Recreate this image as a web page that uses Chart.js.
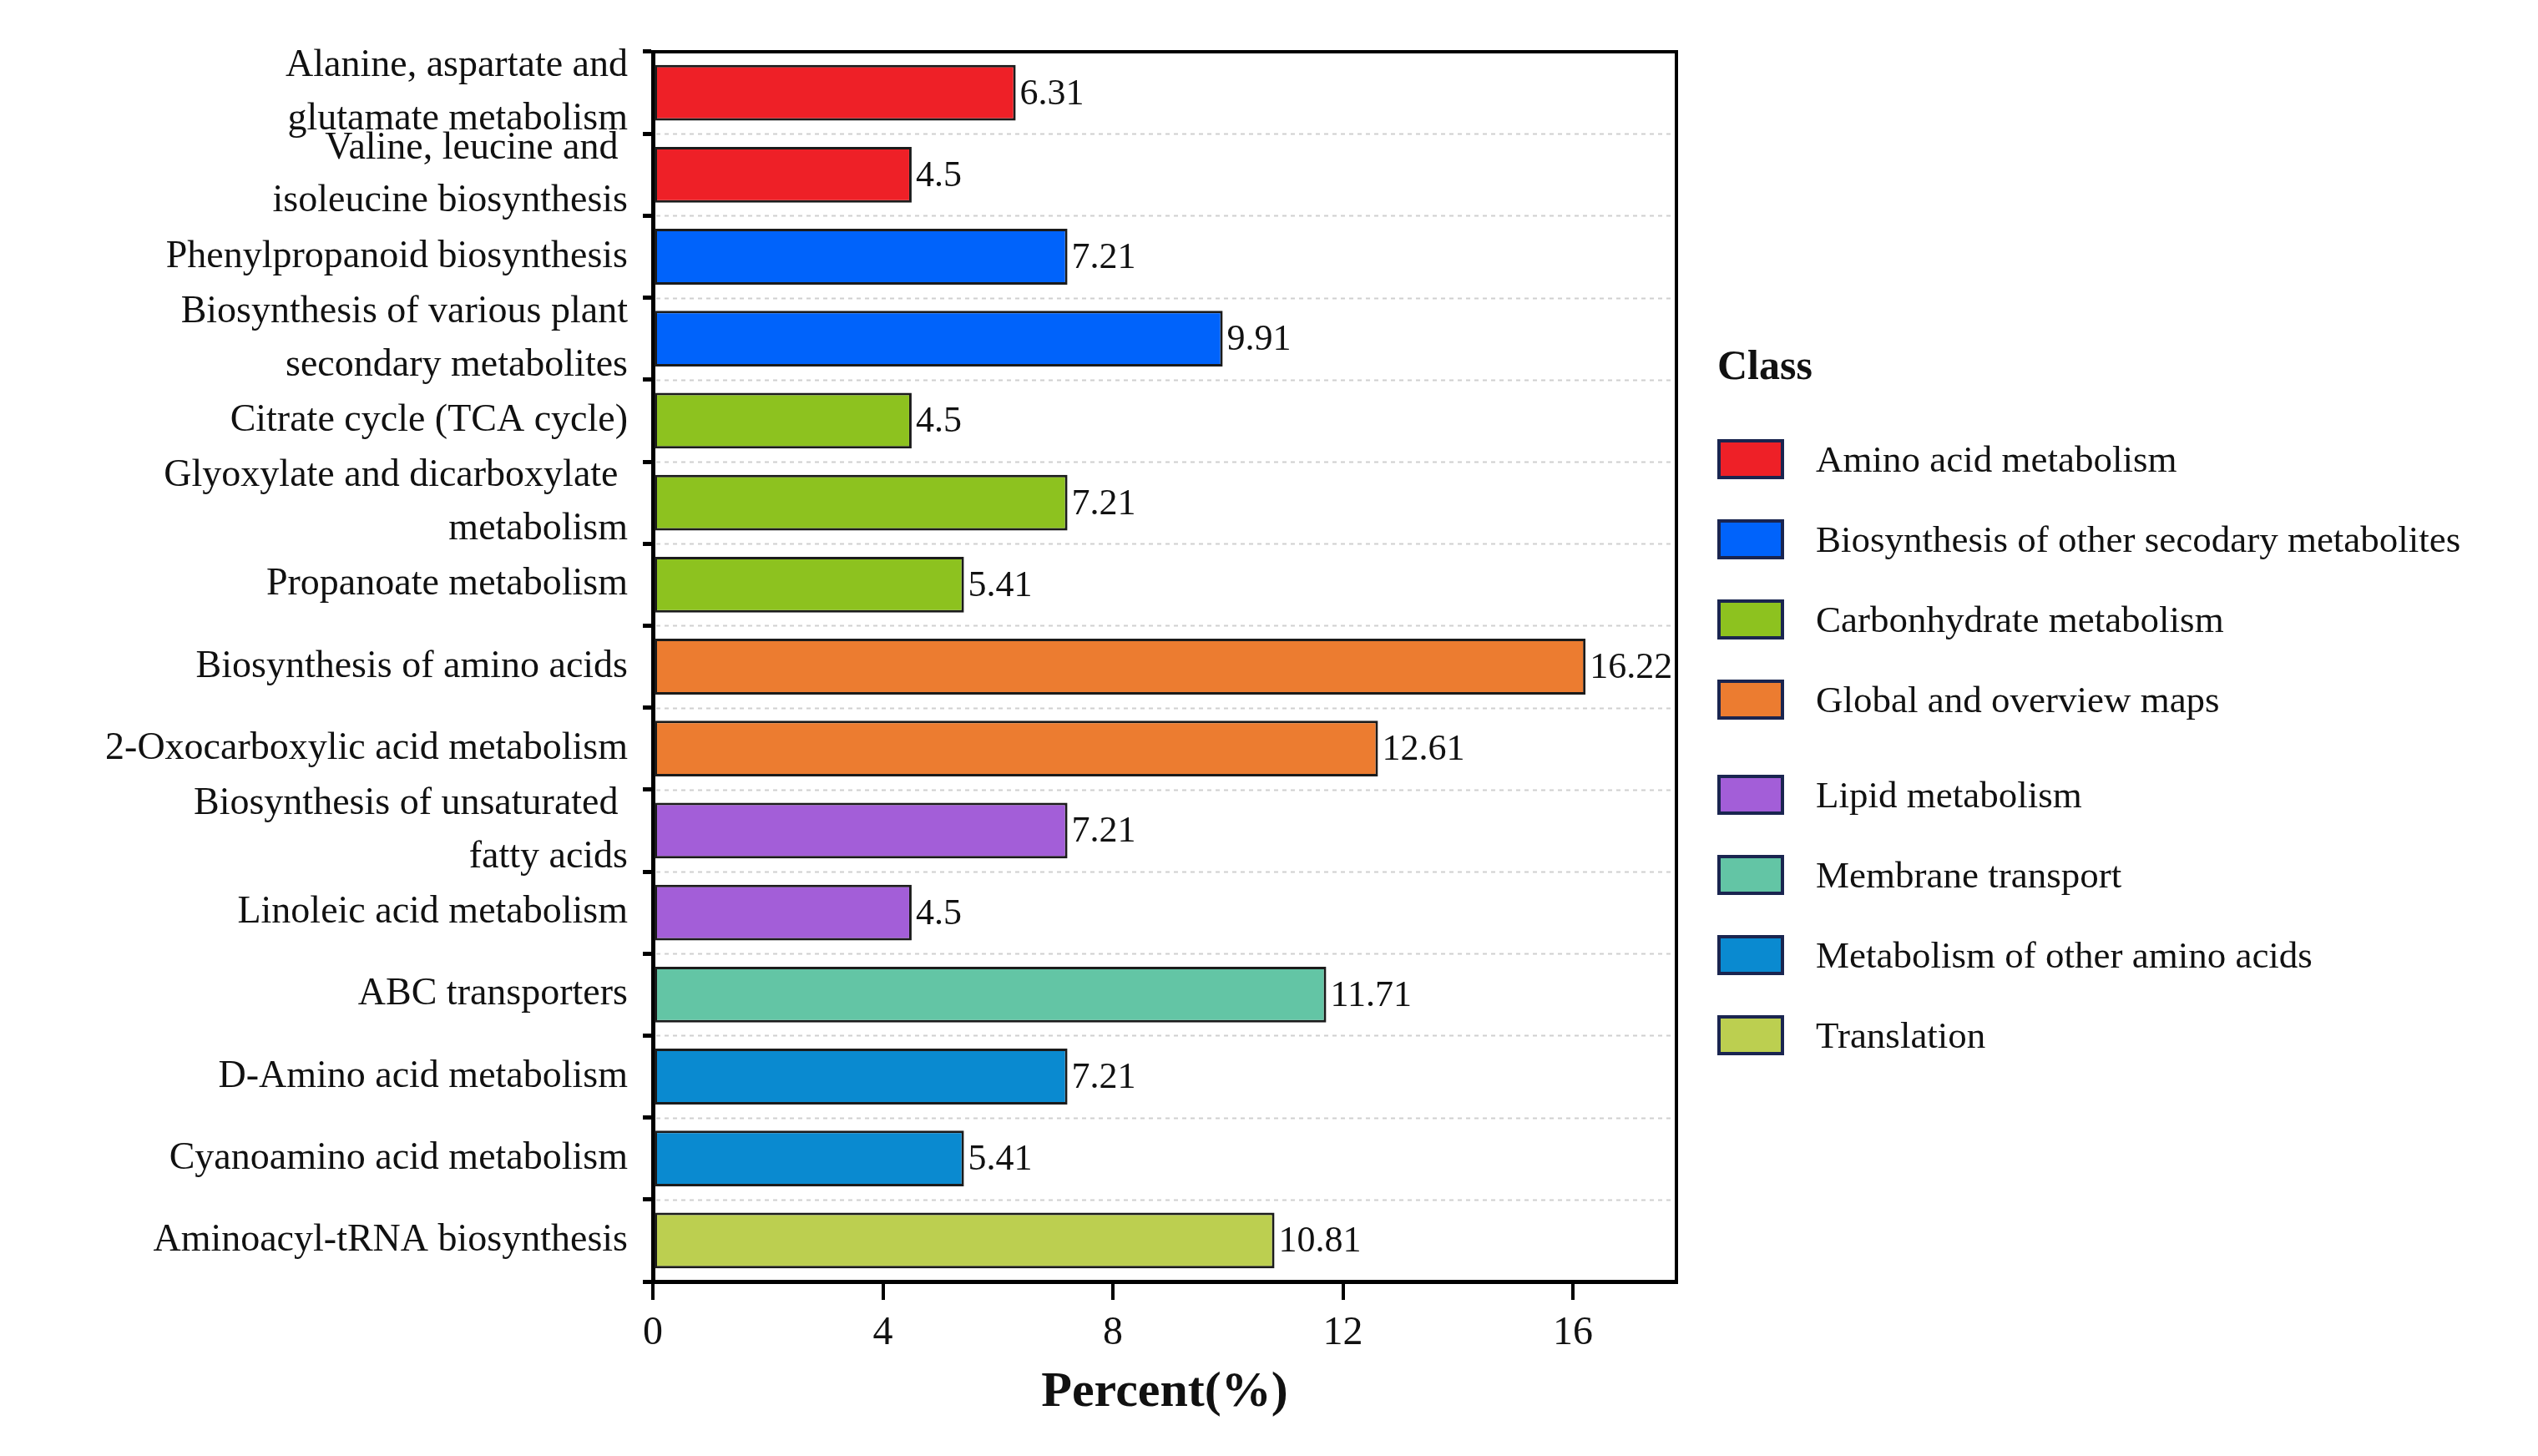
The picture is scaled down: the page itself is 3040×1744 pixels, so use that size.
<!DOCTYPE html>
<html>
<head>
<meta charset="utf-8">
<script src="https://cdn.jsdelivr.net/npm/chart.js@4.4.1/dist/chart.umd.min.js"></script>
<style>
  html, body { margin: 0; padding: 0; background: #fff; }
  #wrap { position: relative; width: 3040px; height: 1744px; }
  #legend { position: absolute; left: 2057px; top: 408px; font-family: "Liberation Serif", serif; color: #111; }
  #legend h3 { margin: 0 0 36px 0; font-size: 50px; font-weight: bold; }
  .item { display: flex; align-items: center; height: 96px; font-size: 45px; }
  .item.gap { margin-top: 18px; }
  .sw { width: 80px; height: 48px; box-sizing: border-box; border: 4px solid #1a2550; margin-right: 38px; }
</style>
</head>
<body>
<div id="wrap">
  <canvas id="c" width="3040" height="1744"></canvas>
  <div id="legend"><h3>Class</h3></div>
</div>
<script>
(function () {
  'use strict';

  var labels = [
    ['Alanine, aspartate and', 'glutamate metabolism'],
    ['Valine, leucine and ', 'isoleucine biosynthesis'],
    'Phenylpropanoid biosynthesis',
    ['Biosynthesis of various plant', 'secondary metabolites'],
    'Citrate cycle (TCA cycle)',
    ['Glyoxylate and dicarboxylate ', 'metabolism'],
    'Propanoate metabolism',
    'Biosynthesis of amino acids',
    '2-Oxocarboxylic acid metabolism',
    ['Biosynthesis of unsaturated ', 'fatty acids'],
    'Linoleic acid metabolism',
    'ABC transporters',
    'D-Amino acid metabolism',
    'Cyanoamino acid metabolism',
    'Aminoacyl-tRNA biosynthesis'
  ];
  var values = [6.31, 4.5, 7.21, 9.91, 4.5, 7.21, 5.41, 16.22, 12.61, 7.21, 4.5, 11.71, 7.21, 5.41, 10.81];
  var classOf = [0, 0, 1, 1, 2, 2, 2, 3, 3, 4, 4, 5, 6, 6, 7];
  var classNames = ['Amino acid metabolism', 'Biosynthesis of other secodary metabolites',
    'Carbonhydrate metabolism', 'Global and overview maps', 'Lipid metabolism',
    'Membrane transport', 'Metabolism of other amino acids', 'Translation'];
  var classColors = ['#ee2027', '#0063fb', '#8dc21f', '#ec7c30', '#a35ed8', '#63c5a5', '#0a8ad0', '#bccf50'];
  var xTicks = [0, 4, 8, 12, 16];

  var FONT = '"Liberation Serif", "Times New Roman", serif';

  // legend (HTML)
  var leg = document.getElementById('legend');
  classNames.forEach(function (name, i) {
    var d = document.createElement('div');
    d.className = 'item' + (i === 4 ? ' gap' : '');
    d.innerHTML = '<div class="sw" style="background:' + classColors[i] + '"></div>' + name;
    leg.appendChild(d);
  });

  // dashed separators between categories, drawn under the bars
  var separators = {
    id: 'separators',
    beforeDatasetsDraw: function (chart) {
      var a = chart.chartArea, ctx = chart.ctx, y = chart.scales.y;
      var step = (a.bottom - a.top) / labels.length;
      ctx.save();
      ctx.strokeStyle = '#d0d0d0';
      ctx.lineWidth = 2;
      ctx.setLineDash([5, 5]);
      for (var i = 1; i < labels.length; i++) {
        var yy = Math.round(a.top + i * step) + 0.5;
        ctx.beginPath();
        ctx.moveTo(a.left + 4, yy);
        ctx.lineTo(a.right - 2, yy);
        ctx.stroke();
      }
      ctx.restore();
    }
  };

  var valueLabels = {
    id: 'valueLabels',
    afterDatasetsDraw: function (chart) {
      var ctx = chart.ctx;
      var meta = chart.getDatasetMeta(0);
      ctx.save();
      ctx.font = '44px ' + FONT;
      ctx.fillStyle = '#111';
      ctx.textBaseline = 'middle';
      meta.data.forEach(function (bar, i) {
        ctx.fillText(String(values[i]), bar.x + 5, bar.y + 2);
      });
      ctx.restore();
    }
  };

  var frame = {
    id: 'frame',
    afterDraw: function (chart) {
      var a = chart.chartArea, ctx = chart.ctx;
      ctx.save();
      ctx.strokeStyle = '#000';
      ctx.lineWidth = 4;
      ctx.beginPath();
      ctx.moveTo(a.left, a.top);
      ctx.lineTo(a.right, a.top);
      ctx.lineTo(a.right, a.bottom);
      ctx.stroke();
      ctx.restore();
    }
  };

  new Chart(document.getElementById('c'), {
    type: 'bar',
    data: {
      labels: labels,
      datasets: [{
        data: values,
        backgroundColor: classOf.map(function (k) { return classColors[k]; }),
        borderColor: '#1b1b1b',
        borderWidth: 3,
        borderSkipped: false,
        barPercentage: 0.68,
        categoryPercentage: 1
      }]
    },
    options: {
      responsive: false,
      animation: false,
      indexAxis: 'y',
      layout: { padding: { left: 0, right: 1032, top: 62, bottom: 40 } },
      plugins: { legend: { display: false }, tooltip: { enabled: false } },
      scales: {
        x: {
          min: 0,
          max: 17.8,
          afterBuildTicks: function (s) { s.ticks = xTicks.map(function (v) { return { value: v }; }); },
          afterFit: function (s) { s.height = 169; },
          border: { color: '#000', width: 5 },
          grid: { drawOnChartArea: false, color: '#000', lineWidth: 4, tickLength: 22 },
          ticks: { color: '#111', font: { family: FONT, size: 48 }, padding: 12, maxRotation: 0 },
          title: { display: true, text: 'Percent(%)', color: '#111', font: { family: FONT, size: 60, weight: 'bold' }, padding: { top: 0, bottom: 0 } }
        },
        y: {
          afterFit: function (s) { s.width = 782; },
          border: { color: '#000', width: 5 },
          grid: {
            offset: true,
            drawOnChartArea: false,
            color: '#000',
            lineWidth: 5,
            tickLength: 12
          },
          ticks: { autoSkip: false, color: '#111', font: { family: FONT, size: 46, lineHeight: 1.38 }, padding: 18 }
        }
      }
    },
    plugins: [separators, valueLabels, frame]
  });
}());
</script>
</body>
</html>
